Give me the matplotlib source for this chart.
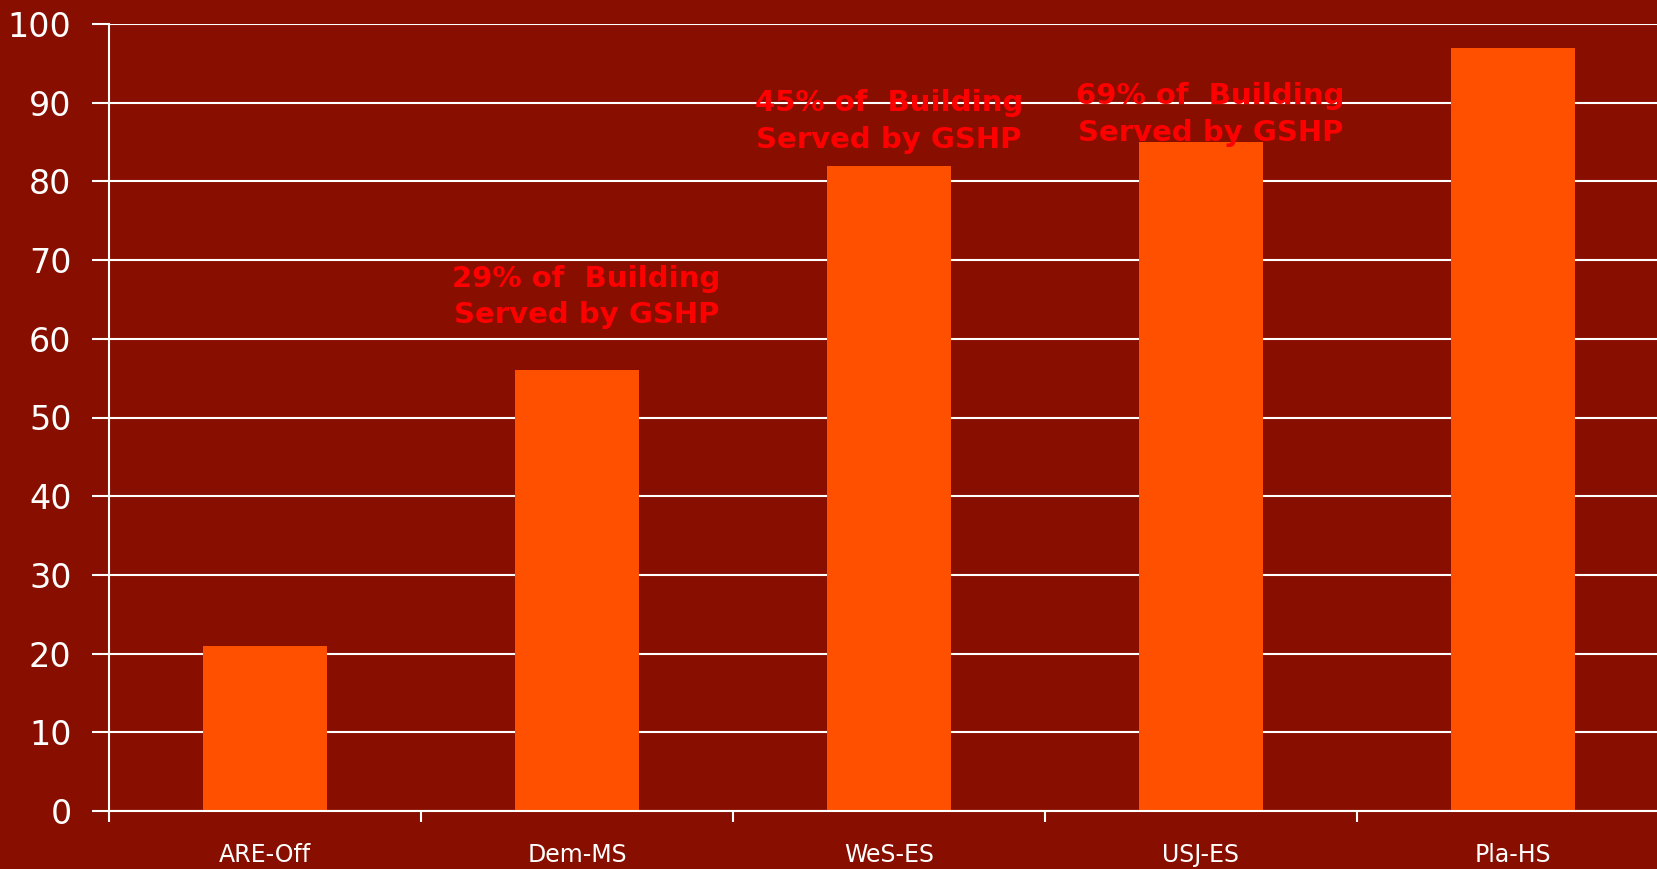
import matplotlib
matplotlib.use("Agg")
import matplotlib.pyplot as plt

# values
sites = ["ARE-Off", "Dem-MS", "WeS-ES", "USJ-ES", "Pla-HS"]
values = [21, 56, 82, 85, 97]
notes = ["29% of  Building\nServed by GSHP",
         "45% of  Building\nServed by GSHP",
         "69% of  Building\nServed by GSHP"]
note_x = [1.03, 2.0, 3.03]
note_y = [65.3, 87.6, 88.5]

bg = "#880E00"
bar_col = "#FF5000"

plt.rcParams['font.family'] = ['DejaVu Sans']

fig = plt.figure(figsize=(16.57, 8.69), dpi=100, facecolor=bg)
ax = fig.add_axes([109 / 1657, 58 / 869, 1560 / 1657, 787 / 869])
ax.set_facecolor(bg)

x = list(range(len(sites)))
ax.bar(x, values, width=0.4, color=bar_col, zorder=3)

ax.set_xlim(-0.5, 4.5)
ax.set_ylim(0, 100)
ax.set_yticks(range(0, 101, 10))
ax.yaxis.grid(True, color="white", linewidth=1.5, zorder=1)

ax.set_xticks(x)
ax.set_xticklabels(sites)
ax.set_xticks([i - 0.5 for i in range(len(sites))], minor=True)
ax.tick_params(axis="x", which="major", length=0, pad=23, labelsize=17,
               labelcolor="white")
ax.tick_params(axis="x", which="minor", length=8, width=1.5, color="white",
               direction="out")
ax.tick_params(axis="y", length=12, width=1.5, color="white", pad=15,
               labelsize=24, labelcolor="white")

for s in ["top", "right"]:
    ax.spines[s].set_visible(False)
for s in ["left", "bottom"]:
    ax.spines[s].set_color("white")
    ax.spines[s].set_linewidth(1.5)
    ax.spines[s].set_zorder(4)

for t, xx, yy in zip(notes, note_x, note_y):
    ax.text(xx, yy, t, color="#FF0000", fontsize=21, fontweight="bold",
            ha="center", va="center", linespacing=1.4, zorder=5)

fig.savefig("out.png", facecolor=bg)
